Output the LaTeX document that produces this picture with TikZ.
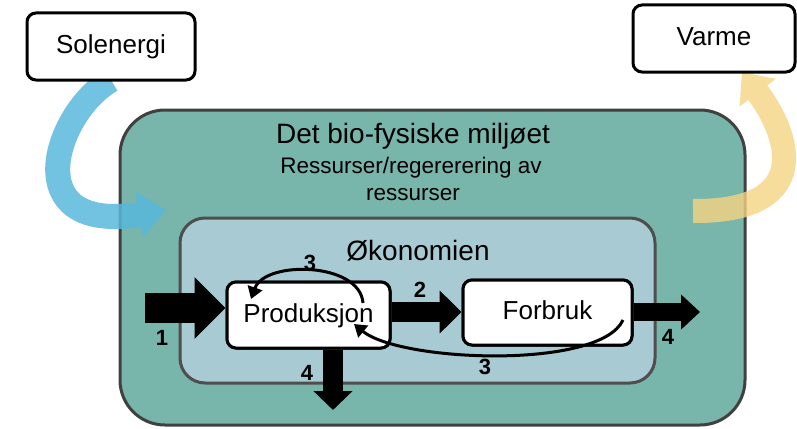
\documentclass[tikz,border=0pt]{standalone}
\usepackage{fontspec}
\setmainfont{Liberation Sans}
\usetikzlibrary{arrows.meta}
\definecolor{outerfill}{RGB}{120,181,171}
\definecolor{outerline}{RGB}{64,64,64}
\definecolor{innerfill}{RGB}{167,202,211}
\definecolor{innerline}{RGB}{78,78,78}
\definecolor{sunblue}{RGB}{88,184,220}
\definecolor{heatyellow}{RGB}{245,212,130}
\begin{document}
\begin{tikzpicture}[x=1pt,y=-1pt,
  box/.style={draw=black, line width=3pt, rounded corners=9pt, fill=white,
    font=\fontsize{26}{31}\selectfont, text height=18pt, text depth=4pt, inner sep=0pt},
  num/.style={font=\fontsize{22}{26}\selectfont\bfseries, text height=15.8pt, text depth=0pt, inner sep=0pt},
  heading/.style={font=\fontsize{28}{34}\selectfont, anchor=base, inner sep=0pt},
  subheading/.style={font=\fontsize{22.5}{27}\selectfont, anchor=base, inner sep=0pt},
  flowcurve/.style={line width=3pt, -{Triangle[width=15pt,length=12pt]}},
]
\useasboundingbox (0,0) rectangle (797,428);

% environment boxes
\node[draw=outerline, line width=3pt, fill=outerfill, rounded corners=45pt,
  minimum width=625pt, minimum height=315pt, inner sep=0pt] (env) at (432.5,267.5) {};
\node[draw=innerline, line width=3pt, fill=innerfill, rounded corners=25pt,
  minimum width=475pt, minimum height=165pt, inner sep=0pt] (eco) at (417.5,300.5) {};

\path (111,46.5) coordinate (solc) (714,38.5) coordinate (varc);

% sun arrow
\coordinate (sunstart) at (111,80);
\coordinate (sunend) at (166,210);
\begin{scope}[transparency group, opacity=0.85]
\draw[sunblue, line width=25pt, -{Triangle[width=44pt,length=27pt]}]
  (sunstart) .. controls (55,112) and (15,235) .. (sunend);
\end{scope}

% heat arrow
\coordinate (heatstart) at (693,211);
\coordinate (heatend) at (742,72);
\begin{scope}[transparency group, opacity=0.8]
\draw[heatyellow, line width=24pt, -{Triangle[width=44pt,length=26pt]}]
  (heatstart) .. controls (815,212) and (790,135) .. (heatend);
\end{scope}

% outer boxes
\node[box, minimum width=168pt, minimum height=67pt] (sol) at (solc) {Solenergi};
\node[box, minimum width=162pt, minimum height=67pt] (varme) at (varc) {Varme};

% block arrows
\coordinate (a1s) at (145,308);
\coordinate (a2) at (0,312);
\coordinate (a4r) at (700,312);
\coordinate (a4d) at (333,410);
\path (308.5,315) coordinate (prodc) (547.5,312.5) coordinate (forbc);

\node[box, minimum width=163pt, minimum height=66pt] (prod) at (prodc) {Produksjon};
\node[box, minimum width=169pt, minimum height=65pt] (forb) at (forbc) {Forbruk};

\draw[line width=30pt, -{Triangle[width=60pt,length=31pt]}] (a1s) -- (a1s -| prod.west);
\draw[line width=20pt, -{Triangle[width=42pt,length=22pt]}] (prod.east |- a2) -- (forb.west |- a2);
\draw[line width=18pt, -{Triangle[width=34pt,length=19pt]}] (forb.east |- a2) -- (a4r);
\draw[line width=20pt, -{Triangle[width=38pt,length=19pt]}] (a4d |- prod.south) -- (a4d);

% redraw boxes over the arrow stubs
\node[box, minimum width=163pt, minimum height=66pt] (prod) at (prodc) {Produksjon};
\node[box, minimum width=169pt, minimum height=65pt] (forb) at (forbc) {Forbruk};

% feedback curves
\coordinate (c3a) at (363,303);
\coordinate (c3b) at (251,299);
\draw[flowcurve] (c3a) .. controls (360,262) and (265,260) .. (c3b);
\coordinate (c3c) at (623,320);
\coordinate (c3d) at (354,324);
\draw[flowcurve] (c3c) .. controls (600,370) and (400,362) .. (c3d);

% texts
\node[heading] (title) at (413,143) {Det bio-fysiske miljøet};
\node[subheading] (sub1) at (411,173) {Ressurser/regererering av};
\node[subheading] (sub2) at (413,200) {ressurser};
\node[heading] (oko) at (418,260) {Økonomien};

% numbers
\node[num] (n1) at (162,338) {1};
\node[num] (n2) at (420,290) {2};
\node[num] (n3a) at (310,263) {3};
\node[num] (n4a) at (668,337) {4};
\node[num] (n4b) at (307,373) {4};
\node[num] (n3b) at (485,367) {3};
\end{tikzpicture}
\end{document}
